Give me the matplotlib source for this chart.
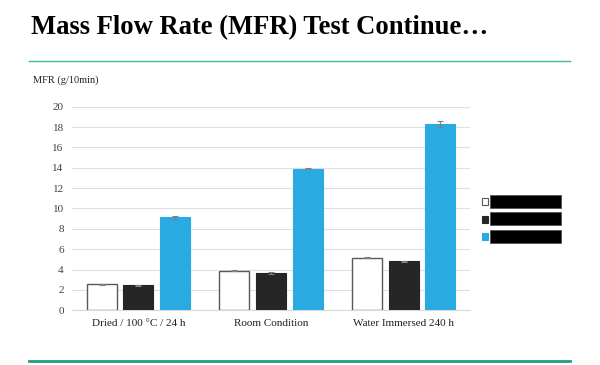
import matplotlib
matplotlib.use("Agg")
import matplotlib.pyplot as plt
import numpy as np
from matplotlib.patches import Rectangle
from matplotlib.lines import Line2D

categories = ["Dried / 100 °C / 24 h", "Room Condition", "Water Immersed 240 h"]
series_a = [2.55, 3.9, 5.17]
series_b = [2.45, 3.7, 4.8]
series_c = [9.13, 13.9, 18.3]
err_a = [0.04, 0.04, 0.08]
err_b = [0.05, 0.1, 0.05]
err_c = [0.12, 0.05, 0.3]
yticks = [0, 2, 4, 6, 8, 10, 12, 14, 16, 18, 20]

plt.rcParams['font.family'] = ['Liberation Serif', 'DejaVu Serif']

fig = plt.figure(figsize=(6, 3.65), dpi=100)
ax = fig.add_axes([0.12, 0.15, 0.6633, 0.5577])

x = np.arange(len(categories))
w = 0.226
off = 0.277
ecol = '#7f7f7f'
ax.bar(x - off, series_a, w, color='white', edgecolor='#595959', linewidth=1.0,
       yerr=err_a, ecolor=ecol, capsize=2, error_kw=dict(elinewidth=0.8, capthick=0.8), zorder=3)
ax.bar(x, series_b, w, color='#262626', edgecolor='#262626', linewidth=0.8,
       yerr=err_b, ecolor=ecol, capsize=2, error_kw=dict(elinewidth=0.8, capthick=0.8), zorder=3)
ax.bar(x + off, series_c, w, color='#29abe2', edgecolor='#29abe2', linewidth=0.8,
       yerr=err_c, ecolor=ecol, capsize=2, error_kw=dict(elinewidth=0.8, capthick=0.8), zorder=3)

ax.set_xlim(-0.5, 2.5)
ax.set_ylim(0, 20)
ax.set_yticks(yticks)
ax.set_yticklabels([str(t) for t in yticks], fontsize=8, color='#404040')
ax.set_xticks(x)
ax.set_xticklabels(categories, fontsize=8, color='#202020')
ax.tick_params(axis='both', length=0, pad=6)
ax.grid(axis='y', color='#e0e0e0', linewidth=0.8, zorder=0)
ax.set_axisbelow(True)
for s in ['top', 'right', 'left']:
    ax.spines[s].set_visible(False)
ax.spines['bottom'].set_color('#d9d9d9')
ax.spines['bottom'].set_linewidth(0.8)

fig.text(0.055, 0.78, "MFR (g/10min)", fontsize=7.5, color='#202020', va='center', ha='left')

fig.text(31/600, 1 - 34/365, "Mass Flow Rate (MFR) Test Continue…", fontsize=19.2,
         fontweight='bold', va='baseline', ha='left', color='black')

fig.add_artist(Line2D([29/600, 570/600], [1 - 60.5/365, 1 - 60.5/365], color='#3cb89a', linewidth=1.0))
fig.add_artist(Line2D([29/600, 570/600], [1 - 361/365, 1 - 361/365], color='#1f9e80', linewidth=2.0))

# legend markers with redacted labels
colors = [('white', '#595959'), ('#262626', '#262626'), ('#29abe2', '#29abe2')]
ys = [201, 219, 236]
for (fc, ec), yy in zip(colors, ys):
    fig.add_artist(Rectangle((482/600, 1 - (yy + 3.5)/365), 6/600, 7/365, facecolor=fc,
                             edgecolor=ec, linewidth=0.8))
    fig.add_artist(Rectangle((490/600, 1 - (yy + 6.5)/365), 71/600, 13/365, facecolor='black',
                             edgecolor='#555555', linewidth=0.6))

fig.savefig("out.png", dpi=100)
